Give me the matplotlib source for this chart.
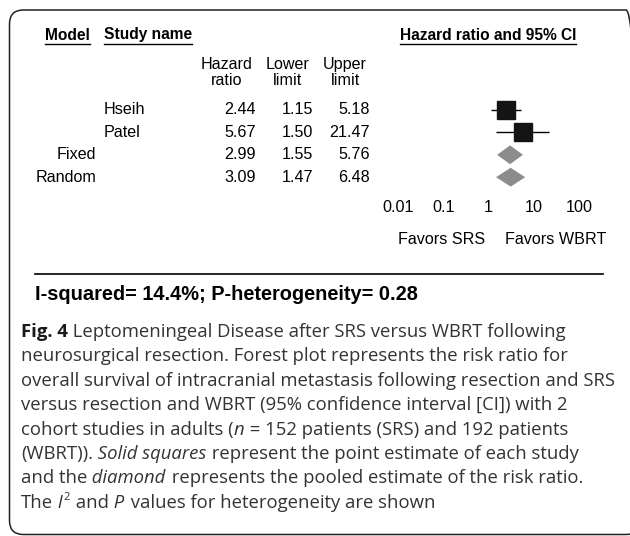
import matplotlib
matplotlib.use("Agg")
import matplotlib.pyplot as plt
import matplotlib.patches as mpatches
import matplotlib.transforms as mtransforms
from matplotlib.lines import Line2D
from matplotlib.ticker import NullLocator

W, H = 630, 536

# Datos del forest plot
study_names = ["Hseih", "Patel"]
study_hr = [2.44, 5.67]
study_lower = [1.15, 1.50]
study_upper = [5.18, 21.47]
model_names = ["Fixed", "Random"]
model_hr = [2.99, 3.09]
model_lower = [1.55, 1.47]
model_upper = [5.76, 6.48]
tick_values = [0.01, 0.1, 1, 10, 100]
tick_labels = ["0.01", "0.1", "1", "10", "100"]
i_squared = 14.4
p_het = 0.28

TABLE_FONT = ["Liberation Sans", "DejaVu Sans"]
CAPTION_FONT = ["Open Sans", "DejaVu Sans"]
FS = 11.6
FS_HEAD = 11.2


def fx(px):
    return px / W


def fy(py):
    return 1 - py / H


fig = plt.figure(figsize=(W / 100, H / 100), dpi=100)
fig.patch.set_facecolor("white")

# Ejes del forest plot (escala log)
row_top, row_step = 110, 22.4
n_rows = len(study_names) + len(model_names)
y_top = row_top - row_step / 2
y_bot = row_top + row_step * (n_rows - 1) + row_step / 2
ax = fig.add_axes([fx(398), fy(y_bot), fx(579) - fx(398), (y_bot - y_top) / H])
ax.set_xscale("log")
ax.set_xlim(0.01, 100)
ax.set_ylim(n_rows - 0.5, -0.5)
ax.patch.set_alpha(0)
for s in ax.spines.values():
    s.set_visible(False)
ax.set_yticks([])
ax.set_xticks(tick_values)
ax.set_xticklabels(tick_labels, fontfamily=TABLE_FONT)
ax.xaxis.set_minor_locator(NullLocator())
ax.tick_params(axis="x", length=0, pad=8, labelsize=FS)

study_rows = list(range(len(study_names)))
model_rows = [len(study_names) + i for i in range(len(model_names))]

ax.hlines(study_rows, study_lower, study_upper, color="black", lw=1.0, zorder=2)
ax.plot(study_hr, study_rows, "s", ms=12.5, color="#141414", zorder=3, clip_on=False)
for r, est, lo, hi in zip(model_rows, model_hr, model_lower, model_upper):
    ax.fill([lo, est, hi, est], [r, r - 0.42, r, r + 0.42], color="#8c8c8c", lw=0, zorder=3)

# Tabla a la izquierda
trans = mtransforms.blended_transform_factory(fig.transFigure, ax.transData)
for r, name in zip(study_rows, study_names):
    fig.text(fx(104), r, name, ha="left", va="center", transform=trans,
             fontsize=FS, fontfamily=TABLE_FONT)
for r, name in zip(model_rows, model_names):
    fig.text(fx(96), r, name, ha="right", va="center", transform=trans,
             fontsize=FS, fontfamily=TABLE_FONT)
all_rows = study_rows + model_rows
cols = [(256, study_hr + model_hr), (313, study_lower + model_lower), (370, study_upper + model_upper)]
for xpix, vals in cols:
    for r, v in zip(all_rows, vals):
        fig.text(fx(xpix), r, f"{v:.2f}", ha="right", va="center", transform=trans,
                 fontsize=FS, fontfamily=TABLE_FONT)

col_heads = [(227, "Hazard\nratio"), (288, "Lower\nlimit"), (345, "Upper\nlimit")]
for xpix, txt in col_heads:
    fig.text(fx(xpix), fy(72.5), txt, ha="center", va="center", fontsize=FS,
             fontfamily=TABLE_FONT, linespacing=1.15, multialignment="center")

heads = []
for xpix, txt in [(45, "Model"), (104, "Study name"), (400, "Hazard ratio and 95% CI")]:
    heads.append(fig.text(fx(xpix), fy(35), txt, ha="left", va="center", fontsize=FS_HEAD,
                          fontweight="bold", fontfamily=TABLE_FONT))

fig.text(fx(442), fy(240), "Favors SRS", ha="center", va="center", fontsize=FS, fontfamily=TABLE_FONT)
fig.text(fx(556), fy(240), "Favors WBRT", ha="center", va="center", fontsize=FS, fontfamily=TABLE_FONT)

fig.add_artist(Line2D([fx(35), fx(603)], [fy(274), fy(274)], lw=1.2, color="black"))
fig.text(fx(35), fy(295), f"I-squared= {i_squared}%; P-heterogeneity= {p_het}", ha="left", va="center",
         fontsize=14.4, fontweight="bold", fontfamily=TABLE_FONT)

# Marco redondeado
frame = mpatches.FancyBboxPatch((9.5, 1.5), 640 - 9.5, (H - 10) - 1.5,
                                boxstyle="round,pad=0,rounding_size=14",
                                transform=mtransforms.IdentityTransform(),
                                fill=False, lw=1.1, ec="#222222")
fig.add_artist(frame)

fig.canvas.draw()
renderer = fig.canvas.get_renderer()

# Subrayado de los encabezados
for t in heads:
    bb = t.get_window_extent(renderer)
    fig.add_artist(Line2D([bb.x0, bb.x1], [H - 43.5, H - 43.5], lw=1.0, color="black",
                          transform=mtransforms.IdentityTransform()))

# Leyenda de la figura
N, B, I, SUP = "normal", "bold", "italic", "sup"
caption = [
    [("Fig. 4", B), (" Leptomeningeal Disease after SRS versus WBRT following", N)],
    [("neurosurgical resection. Forest plot represents the risk ratio for", N)],
    [("overall survival of intracranial metastasis following resection and SRS", N)],
    [("versus resection and WBRT (95% confidence interval [CI]) with 2", N)],
    [("cohort studies in adults (", N), ("n", I), (" = 152 patients (SRS) and 192 patients", N)],
    [("(WBRT)).", N), (" Solid squares", I), (" represent the point estimate of each study", N)],
    [("and the", N), (" diamond", I), (" represents the pooled estimate of the risk ratio.", N)],
    [("The", N), (" I", I), ("2", SUP), (" and", N), (" P", I), (" values for heterogeneity are shown", N)],
]
CFS = 13.3
base0, step = 337.0, 24.4
for k, line in enumerate(caption):
    x = 21.0
    yb = base0 + k * step
    for txt, st in line:
        kw = dict(fontfamily=CAPTION_FONT, fontsize=CFS, color="#333333", va="baseline", ha="left",
                  transform=mtransforms.IdentityTransform())
        y = H - yb
        if st == B:
            kw["fontweight"] = "bold"
            kw["color"] = "#1a1a1a"
        elif st == I:
            kw["fontstyle"] = "italic"
        elif st == SUP:
            kw["fontsize"] = CFS * 0.6
            y += 7.5
        t = fig.text(x, y, txt, **kw)
        x = t.get_window_extent(renderer).x1 + (1.0 if st in (I, SUP) else 0.0)

fig.savefig("out.png", dpi=100)
